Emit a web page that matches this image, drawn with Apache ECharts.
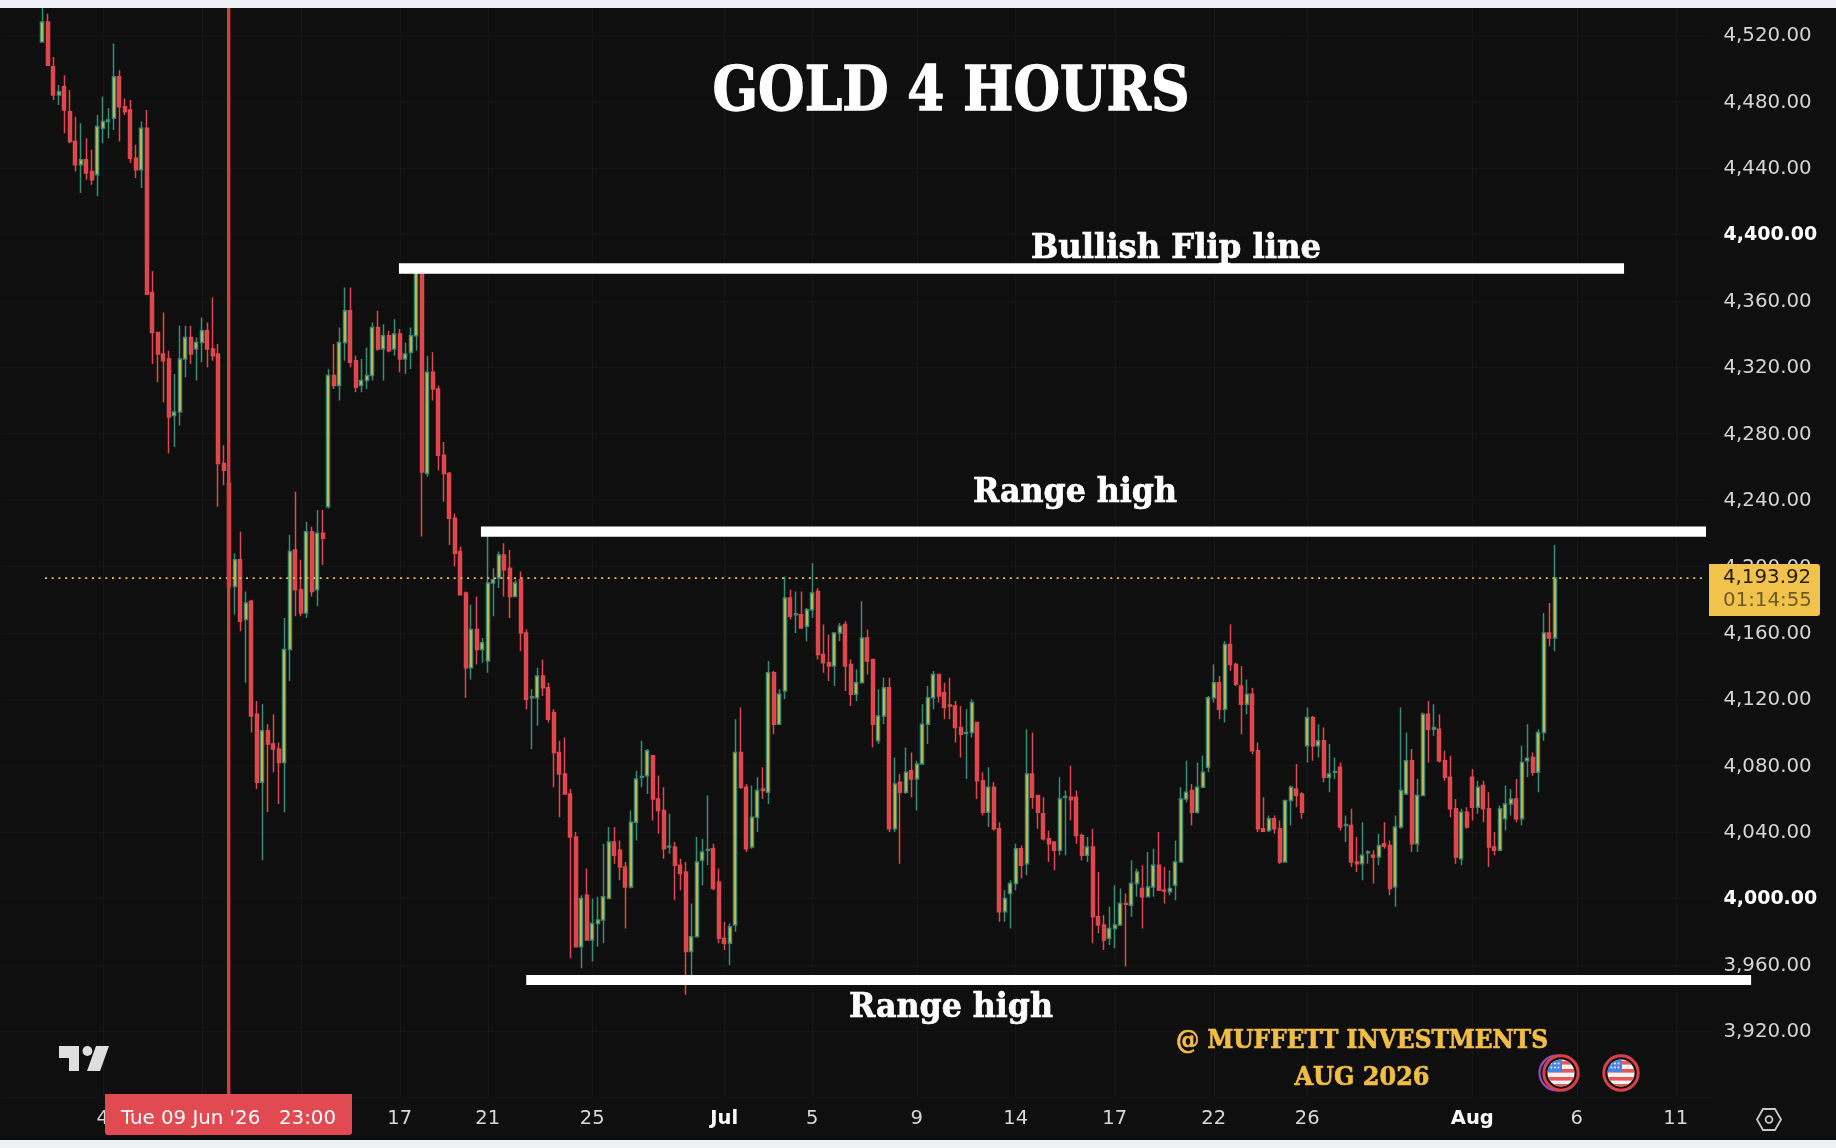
<!DOCTYPE html>
<html>
<head>
<meta charset="utf-8">
<title>GOLD 4 HOURS</title>
<style>html,body{margin:0;padding:0;background:#0f0f0f}#chart{width:1836px;height:1148px}</style>
<script src="https://cdn.jsdelivr.net/npm/echarts@6/dist/echarts.min.js"></script>
</head>
<body>
<div id="chart"></div>
<script>
// Each candle: [open, close, low, high]
const juneCandles = [
[4516,4528,4516,4540],[4528,4502,4502,4533],[4501,4484,4481,4507],[4484,4486,4478,4490],[4489,4475,4461,4496],[4474,4456,4455,4487],[4456,4442,4438,4471],[4442,4445,4425,4467],[4445,4437,4433,4458],[4438,4433,4430,4451],
[4436,4465,4423,4472],[4464,4468,4455,4483],[4468,4469,4458,4476],[4470,4495,4463,4515],[4495,4477,4456,4499],[4477,4474,4472,4482],[4475,4446,4443,4481],[4446,4439,4434,4454],[4439,4464,4428,4468],[4464,4364,4364,4475],
[4365,4341,4322,4378],[4341,4328,4311,4341],[4328,4324,4299,4353],[4325,4290,4268,4330],[4291,4293,4272,4316],[4293,4325,4285,4345],[4325,4338,4314,4345],[4338,4328,4322,4345],[4331,4335,4312,4338],[4335,4342,4323,4350],
[4342,4331,4320,4347],[4331,4327,4324,4362],[4328,4262,4236,4334],[4262,4258,4249,4273],[4250,4188,4187,4255],[4188,4204,4171,4208],[4204,4167,4161,4221],[4168,4178,4130,4185],[4179,4110,4100,4180],[4111,4070,4066,4119],
[4070,4101,4023,4117],[4101,4093,4052,4105],[4093,4090,4076,4111],[4090,4082,4057,4094],[4082,4150,4052,4169],[4150,4209,4131,4219],[4210,4186,4170,4245],[4186,4172,4170,4204],[4172,4221,4169,4227],[4221,4185,4182,4224],
[4186,4220,4176,4234],[4220,4217,4201,4234],[4236,4315,4235,4319],[4315,4309,4307,4334],[4309,4335,4300,4344],[4335,4354,4324,4368],[4354,4323,4320,4368],[4324,4308,4305,4327],[4309,4312,4305,4325],[4312,4315,4307,4332],
[4315,4344,4312,4347],[4344,4331,4330,4354],[4331,4339,4312,4346],[4339,4330,4329,4342],[4331,4340,4327,4349],[4340,4325,4317,4343],[4325,4328,4316,4335],[4329,4339,4319,4344],[4339,4378,4330,4382],[4378,4257,4218,4380],
[4256,4317,4254,4327],[4317,4307,4300,4329],[4307,4267,4258,4309],[4267,4256,4239,4275],[4256,4229,4213,4257],[4229,4208,4200,4232],[4209,4183,4183,4212],[4184,4139,4121,4185],[4139,4162,4132,4177],[4162,4150,4141,4182],
[4150,4154,4142,4157],[4143,4190,4136,4219],[4190,4192,4170,4199],[4193,4207,4187,4209],[4207,4198,4182,4214],[4199,4182,4169,4210],[4182,4190,4182,4192],[4192,4160,4149,4197],[4160,4120,4114,4162],[4121,4121.5,4090,4126],
[4121,4134,4104,4139],[4134,4127,4122,4144],[4127,4108,4106,4130],[4112,4088,4067,4114],[4088,4075,4049,4095],[4075,4063,4063,4097],[4063,4037,3964,4066],[4037,3971,3971,4040],[3971,4000,3958,4002],[4002,3975,3975,4018],
[3975,3985,3962,4000],[3985,3987,3971,4001],[3987,4001,3973,4033],[4000,4034,4000,4043],[4034,4026,4021,4043],[4029,4019,4011,4035],[4019,4007,3982,4022],[4007,4046,4006,4053],[4046,4072,4035,4077],[4073,4073.5,4067,4095],
[4074,4089,4063,4090],[4086,4060,4047,4086],[4060,4053,4039,4074],[4053,4030,4024,4067],[4031,4031.5,4027,4051],[4031,4020,3999,4034],[4020,4015,4005,4024],[4016,3968,3942,4022],[3968,3977,3953,3997],[3977,4022,3977,4037],
[4023,4028,4008,4036],[4029,4029.5,4020,4062],[4030,4006,4005,4033],[4010,3976,3973,4018]
];
const julyCandles = [
[3976,3973,3969,3986],[3973,3983,3960,3985],[3984,4088,3980,4108],[4088,4067,4066,4115],[4067,4030,4028,4069],[4031,4049,4030,4068],[4049,4065,4040,4073],[4066,4065,4060,4079],[4064,4136,4057,4143],[4136,4105,4099,4137],
[4105,4123,4105,4126],[4125,4181,4120,4194],[4181,4170,4168,4186],[4171,4171.5,4160,4185],[4171,4163,4163,4185],[4164,4174,4155,4175],[4174,4184,4169,4202],[4185,4147,4144,4187],[4147,4142,4136,4165],[4142,4140,4131,4159],
[4140,4160,4128,4160],[4160,4164,4155,4166],[4165,4140,4125,4167],[4141,4123,4116,4144],[4123,4130,4119,4138],[4130,4157,4130,4179],[4157,4143,4135,4162],[4144,4105,4091,4144],[4095,4110,4093,4126],[4110,4127,4105,4133],
[4127,4042,4040,4133],[4042,4069,4040,4085],[4070,4064,4021,4075],[4064,4076,4063,4091],[4077,4072,4061,4088],[4072,4081,4053,4083],[4081,4105,4081,4117],[4105,4121,4093,4128],[4121,4135,4114,4137],[4135,4122,4118,4135],
[4124,4115,4108,4130],[4116.5,4116,4108,4133],[4116,4103,4094,4119],[4103,4099,4085,4116],[4099.5,4100,4072,4114],[4100,4118,4097,4120],[4106,4071,4060,4106],[4071,4052,4050,4076],[4052,4067,4043,4079],[4067,4042,4041,4070],
[4042,3992,3986,4046],[3992,4000,3986,4005],[4003,4009,3982,4011],[4009,4030,4005,4033],[4030,4020,4012,4032],[4021,4075,4014,4102],[4075,4061,4054,4100],[4062,4052,4042,4062],[4051,4036,4035,4061],[4036,4033,4022,4041],
[4034,4029,4017,4034],[4029,4060,4026,4073],[4061,4061.5,4026,4065],[4061,4059.5,4047,4080],[4061,4038,4033,4065],[4038,4026,4023,4039],[4026,4031,4022,4037],[4031,3989,3973,4042],[3989,3984,3979,4016],[3984,3975,3969,3990],
[3976,3982,3972,3995],[3982,3984,3970,4008],[3984,3997,3984,4006],[3997,3996.5,3959,4003],[3996,4009,3989,4023],[4009,4016,4001,4018],[4006,4001,3982,4020],[4001,4007,4001,4028],[4007,4020,4001,4030],[4020,4005,4005,4040],
[4005,4004.5,3997,4019],[4004,4006,4002,4017],[4008,4022,3999,4035],[4022,4060,4022,4067],[4060,4064,4058,4083],[4065,4052,4044,4069],[4052,4067,4051,4082],[4067,4076,4067,4086],[4079,4121,4076,4122],[4121,4130,4118,4141],
[4130,4114,4108,4134],[4114,4153,4106,4155],[4153,4141,4137,4165],[4141,4129,4128,4142],[4128,4117,4099,4140],[4117,4123,4111,4132],[4123,4089,4087,4127],[4089,4042,4040,4094],[4042,4040.5,4040,4061],[4041,4048,4040,4050],
[4048,4042,4039,4050],[4042,4022,4021,4047],[4022,4059,4022,4059],[4059,4067,4044,4068],[4066,4062,4055,4081],[4063,4052,4048,4064],[4092,4109,4082,4115],[4109,4092,4083,4110],[4092,4095,4085,4105],[4095,4073,4070,4103],
[4073,4075,4064,4093],[4076,4076.5,4072,4085],[4079,4043,4041,4082],[4044,4044.6,4034,4050],[4044,4022,4019,4054],[4022,4021,4016,4037],[4021,4026,4011,4046],[4027.5,4028,4021,4029],[4026,4025,4009,4029],[4025,4032,4020,4039],
[4033,4031.5,4030,4046],[4032,4006,4002,4035],[4007,4043,3995,4050],[4043,4065,4042,4115],[4063,4083,4063,4100],[4083,4033,4028,4090],[4033,4062,4028,4072],[4062,4111,4062,4112],[4111,4102,4082,4119],[4102,4103,4098,4117],
[4102,4083,4082,4111],[4083,4073,4071,4089],[4073,4054,4049,4086],[4054,4025,4021,4060],[4024,4052,4020,4054],[4052,4043,4042,4055]
];
const augustCandles = [
[4073,4055,4047,4078],[4055,4067,4051,4071],[4068,4054,4046,4071],[4054,4031,4019,4064],[4031,4029,4026,4040],[4029,4054,4029,4056],[4048,4057,4041,4068],[4057,4060,4050,4066],[4060,4048,4046,4072],[4048,4082,4044,4092],
[4083,4084.5,4073,4105],[4085,4076,4074,4088],[4076,4100,4064,4102],[4100,4160,4095,4172],[4160,4157,4152,4178],[4157,4193,4149,4213]
];

// Time axis tick labels, with the candle number each one sits on
const tickLabels = ['4','9','12','17','21','25','Jul','5','9','14','17','22','26','Aug','6','11'];
const tickCandles = [11,29,47,65,81,100,124,140,159,177,195,213,230,260,279,297];
const boldTickLabels = ['Jul','Aug'];

// Price axis
const priceTicks = [3920,3960,4000,4040,4080,4120,4160,4200,4240,4280,4320,4360,4400,4440,4480,4520];
const boldPriceTicks = [4000,4400];
const lastPrice = 4193.92;
const countdown = '01:14:55';
const crosshairLabel = "Tue 09 Jun '26   23:00";

// Hand drawn annotations: [candle number, price]
const flipLine = [[64.85,4379.5],[287.6,4379.5]];
const rangeUpperLine = [[79.76,4221],[302.5,4221]];
const rangeLowerLine = [[88,3950.9],[310.7,3950.9]];
const lastPriceLine = [[0.5,4193],[302,4193]];
const crosshairCandle = 33.9;

const LEAD = 7, TRAIL = 28;
const candles = juneCandles.concat(julyCandles, augustCandles);
const BAND = 5.5;
const categoryCount = LEAD + candles.length + TRAIL;
const categories = [];
for (let k = 0; k < categoryCount; k++) categories.push(String(k - LEAD));
const blank = ['-','-','-','-'];
const padded = [];
for (let k = 0; k < LEAD; k++) padded.push(blank);
candles.forEach(c => padded.push(c));

const tickMap = {};
tickCandles.forEach((c, i) => { tickMap[c + LEAD] = tickLabels[i]; });

const Y_MIN = 3880, Y_MAX = 4540;
const GRID = {left: 1, top: 2.1, width: categoryCount * BAND, height: 1095.6};
const OVERLAY_WIDTH = 1835;
const fmt = v => Number(v).toLocaleString('en-US', {minimumFractionDigits: 2, maximumFractionDigits: 2});

const UI_FONT = '"DejaVu Sans", sans-serif';
const SERIF = '"DejaVu Serif", serif';
const mctx = document.createElement('canvas').getContext('2d');
function fitText(text, cx, cy, font, targetWidth, fill, extra) {
  mctx.font = font;
  const w = mctx.measureText(text).width;
  return {
    type: 'text', z: 100, silent: true,
    x: cx, y: cy, scaleX: targetWidth / w, scaleY: 1,
    style: Object.assign({text, x: 0, y: 0, font, fill, align: 'center', verticalAlign: 'middle'}, extra || {})
  };
}
function flagUri() {
  let stripes = '';
  [6,14,22,29].forEach(y => { stripes += `<rect x="0" y="${y+1}" width="40" height="3.6" fill="#e4585a"/>`; });
  const svg = `<svg xmlns="http://www.w3.org/2000/svg" width="38" height="38" viewBox="0 0 38 38">
<circle cx="19" cy="19" r="17.2" fill="#15100f" stroke="#d8414a" stroke-width="3"/>
<clipPath id="c"><circle cx="19" cy="19" r="13.5"/></clipPath>
<g clip-path="url(#c)"><rect width="38" height="38" fill="#f2f2f2"/>${stripes}<rect x="4" y="4" width="16" height="14" fill="#4585e6"/>
<g fill="#fff"><circle cx="9.5" cy="9.5" r=".9"/><circle cx="13" cy="9.5" r=".9"/><circle cx="16.5" cy="9.5" r=".9"/><circle cx="9.5" cy="13.5" r=".9"/><circle cx="13" cy="13.5" r=".9"/><circle cx="16.5" cy="13.5" r=".9"/></g></g></svg>`;
  return 'data:image/svg+xml;charset=utf-8,' + encodeURIComponent(svg);
}

const goldStyle = {shadowColor: '#7c3c1a', shadowOffsetX: 1.6, shadowOffsetY: 1.6, shadowBlur: 0, stroke:'#f2bd45', lineWidth:0.7};
const whiteHeavy = {stroke:'#ffffff', lineWidth:1.3};
const whiteMid = {stroke:'#ffffff', lineWidth:0.7};
const graphics = [
  {type:'rect', z:99, silent:true, shape:{x:0,y:0,width:1836,height:8}, style:{fill:'#eef0f4'}},
  {type:'rect', z:99, silent:true, shape:{x:0,y:1140,width:1836,height:8}, style:{fill:'#eef0f4'}},
  fitText('GOLD 4 HOURS', 951, 94, 'bold 62px ' + SERIF, 477, '#ffffff', whiteHeavy),
  fitText('Bullish Flip line', 1176, 249.5, 'bold 33px ' + SERIF, 290, '#ffffff', whiteMid),
  fitText('Range high', 1075, 493, 'bold 33px ' + SERIF, 204, '#ffffff', whiteMid),
  fitText('Range high', 951, 1008.5, 'bold 33px ' + SERIF, 204, '#ffffff', whiteMid),
  fitText('@ MUFFETT INVESTMENTS', 1362, 1041, 'bold 26px ' + SERIF, 372, '#f2bd45', goldStyle),
  fitText('AUG 2026', 1362, 1078, 'bold 26px ' + SERIF, 135, '#f2bd45', goldStyle),
  // last price tag
  {type:'rect', z:100, silent:true, shape:{x:1709,y:564,width:111,height:52,r:[0,3,3,0]}, style:{fill:'#f1c24c'}},
  {type:'text', z:101, silent:true, style:{text:fmt(lastPrice), x:1723, y:577.5, font:'19.8px '+UI_FONT, fill:'#221c0c', align:'left', verticalAlign:'middle'}},
  {type:'text', z:101, silent:true, style:{text:countdown, x:1723, y:601, font:'19.8px '+UI_FONT, fill:'#6f5c24', align:'left', verticalAlign:'middle'}},
  // crosshair date tag
  {type:'rect', z:100, silent:true, shape:{x:105,y:1094,width:247,height:41,r:[0,0,3,3]}, style:{fill:'#e04a50'}},
  Object.assign(fitText(crosshairLabel, 228.5, 1119, '19.5px '+UI_FONT, 215, '#ffffff'), {z:101}),
  // TradingView mark
  {type:'polygon', z:100, silent:true, shape:{points:[[59,1046],[79,1046],[79,1071],[69,1071],[69,1058],[59,1058]]}, style:{fill:'#dedede'}},
  {type:'circle', z:100, silent:true, shape:{cx:87.4,cy:1051,r:4.9}, style:{fill:'#dedede'}},
  {type:'polygon', z:100, silent:true, shape:{points:[[96,1046],[109,1046],[100,1071],[87,1071]]}, style:{fill:'#dedede'}},
  // settings icon
  {type:'polygon', z:100, silent:true, shape:{points:[[1757,1119.5],[1763,1109],[1775,1109],[1781,1119.5],[1775,1130],[1763,1130]]}, style:{fill:'none',stroke:'#c9c9c9',lineWidth:1.8}},
  {type:'circle', z:100, silent:true, shape:{cx:1769,cy:1119.5,r:3.4}, style:{fill:'none',stroke:'#c9c9c9',lineWidth:1.8}},
  // event flags
  {type:'circle', z:100, silent:true, shape:{cx:1557,cy:1073,r:17.5}, style:{fill:'#15100f',stroke:'#8a4fc0',lineWidth:2.2}},
  {type:'image', z:101, silent:true, style:{image:flagUri(), x:1542, y:1054, width:38, height:38}},
  {type:'image', z:101, silent:true, style:{image:flagUri(), x:1602, y:1054, width:38, height:38}}
];

function lineSeries(name, data, width, color, z, type) {
  return {
    name, type:'line', xAxisIndex:1, yAxisIndex:1, data, z, silent:true,
    symbol:'none', showSymbol:false, animation:false, legendHoverLink:false,
    lineStyle:{width, color, type: type || 'solid', cap:'butt', opacity:1}
  };
}

const chart = echarts.init(document.getElementById('chart'), null, {width:1836, height:1148, renderer:'canvas'});
chart.setOption({
  animation:false,
  backgroundColor:'#0f0f0f',
  grid:[
    {left:GRID.left, top:GRID.top, width:GRID.width, height:GRID.height, containLabel:false},
    {left:GRID.left, top:GRID.top, width:OVERLAY_WIDTH, height:GRID.height, containLabel:false}
  ],
  xAxis:[
    {
      type:'category', gridIndex:0, data:categories, boundaryGap:true,
      axisLine:{show:false}, axisTick:{show:false},
      splitLine:{show:true, alignWithLabel:true, interval:(i)=>tickMap[i]!==undefined, lineStyle:{color:'#1b1516',width:1}},
      axisLabel:{
        show:true, interval:(i)=>tickMap[i]!==undefined, margin:11, hideOverlap:false,
        color:'#d8d8d8', fontFamily:'DejaVu Sans', fontSize:19.5,
        formatter:(v,i)=>{
          const t = tickMap[i];
          if (t===undefined) return '';
          return boldTickLabels.includes(t) ? '{b|'+t+'}' : t;
        },
        rich:{b:{fontFamily:'DejaVu Sans',fontSize:19.5,fontWeight:700,color:'#ffffff'}}
      }
    },
    {type:'value', gridIndex:1, min:-LEAD-0.5, max:-LEAD-0.5+OVERLAY_WIDTH/BAND, show:false, splitLine:{show:false}}
  ],
  yAxis:[
    {
      type:'value', gridIndex:0, position:'right', min:Y_MIN, max:Y_MAX, interval:40, scale:true,
      axisLine:{show:false}, axisTick:{show:false},
      splitLine:{show:true, lineStyle:{color:'#141313',width:1}},
      axisLabel:{
        margin:12, align:'left', color:'#d4d4d4', fontFamily:'DejaVu Sans', fontSize:19.8, padding:[2,0,0,0],
        formatter:(v)=>{
          if (!priceTicks.includes(v)) return '';
          return boldPriceTicks.includes(v) ? '{b|'+fmt(v)+'}' : fmt(v);
        },
        rich:{b:{fontFamily:'DejaVu Sans',fontSize:19,fontWeight:700,color:'#ffffff'}}
      }
    },
    {type:'value', gridIndex:1, min:Y_MIN, max:Y_MAX, interval:40, show:false, splitLine:{show:false}}
  ],
  series:[
    {
      name:'GOLD', type:'candlestick', xAxisIndex:0, yAxisIndex:0, data:padded, barWidth:3.6, z:2, silent:true,
      itemStyle:{color:'#efc044', color0:'#e0474e', borderColor:'#3a8c75', borderColor0:'#e0474e', borderWidth:1.5}
    },
    lineSeries('Last price', lastPriceLine, 1.8, '#f0c24c', 3, [2,4.7]),
    lineSeries('Crosshair', [[crosshairCandle,Y_MIN],[crosshairCandle,Y_MAX]], 3.4, '#cf3e44', 4),
    lineSeries('Bullish Flip line', flipLine, 10.4, '#ffffff', 5),
    lineSeries('Range high', rangeUpperLine, 10.4, '#ffffff', 5),
    lineSeries('Range low', rangeLowerLine, 10.2, '#ffffff', 5)
  ],
  graphic:{elements:graphics}
});
</script>
</body>
</html>
